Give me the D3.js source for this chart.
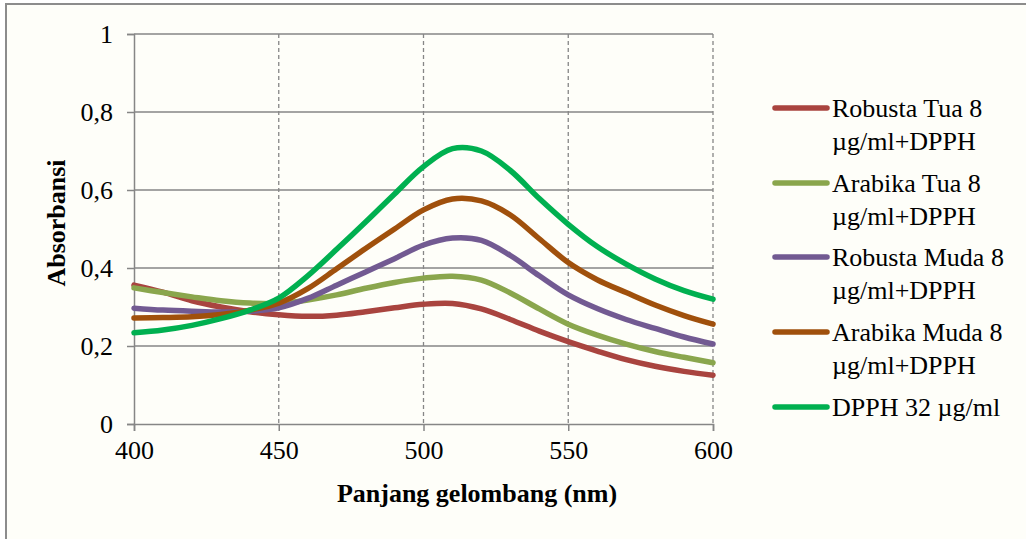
<!DOCTYPE html>
<html>
<head>
<meta charset="utf-8">
<script src="https://cdn.jsdelivr.net/npm/d3@7"></script>
<style>
  html, body { margin: 0; padding: 0; background: #ffffff; }
  svg { display: block; }
  text { font-family: "Liberation Serif", "Times New Roman", serif; fill: #000; }
</style>
</head>
<body>
<svg id="chart" width="1026" height="539"></svg>
<script>
// ---- Data ----
const wavelengths = [400,410,420,430,440,450,460,470,480,490,500,510,520,530,540,550,560,570,580,590,600];
const robustaTua  = [0.356,0.338,0.316,0.300,0.288,0.280,0.276,0.279,0.288,0.298,0.307,0.309,0.295,0.268,0.238,0.211,0.187,0.165,0.148,0.135,0.125];
const arabikaTua  = [0.349,0.337,0.326,0.316,0.310,0.309,0.318,0.331,0.348,0.363,0.374,0.379,0.369,0.336,0.295,0.256,0.228,0.205,0.186,0.171,0.157];
const robustaMuda = [0.297,0.292,0.289,0.287,0.289,0.298,0.322,0.356,0.390,0.424,0.459,0.477,0.471,0.432,0.380,0.331,0.296,0.268,0.245,0.223,0.205];
const arabikaMuda = [0.272,0.273,0.275,0.281,0.292,0.310,0.347,0.398,0.450,0.500,0.549,0.577,0.572,0.536,0.475,0.414,0.370,0.337,0.305,0.278,0.256];
const dpph32      = [0.234,0.241,0.253,0.270,0.292,0.323,0.380,0.448,0.518,0.590,0.660,0.706,0.700,0.650,0.578,0.512,0.455,0.410,0.372,0.342,0.320];
const seriesNames = [
  ["Robusta Tua 8", "\u00b5g/ml+DPPH"],
  ["Arabika Tua 8", "\u00b5g/ml+DPPH"],
  ["Robusta Muda 8", "\u00b5g/ml+DPPH"],
  ["Arabika Muda 8", "\u00b5g/ml+DPPH"],
  ["DPPH 32 \u00b5g/ml"]
];
const seriesColors = ["#A9443F", "#8AA64D", "#725A92", "#A0500C", "#00B050"];
const xTicks = [400,450,500,550,600];
const yTicks = [0,0.2,0.4,0.6,0.8,1];
const xTitle = "Panjang gelombang (nm)";
const yTitle = "Absorbansi";

const seriesValues = [robustaTua, arabikaTua, robustaMuda, arabikaMuda, dpph32];

// ---- Layout ----
const svg = d3.select("#chart");
const W = 1026, H = 539;
const plot = {left: 134, right: 713, top: 34, bottom: 424};

svg.append("rect").attr("x", 0).attr("y", 0).attr("width", W).attr("height", H).attr("fill", "#ffffff");
svg.append("rect").attr("x", 6).attr("y", 4).attr("width", 1040).attr("height", 560)
  .attr("fill", "#fefef9").attr("stroke", "#8c8c8c").attr("stroke-width", 2);

const x = d3.scaleLinear().domain([400, 600]).range([plot.left, plot.right]);
const y = d3.scaleLinear().domain([0, 1]).range([plot.bottom, plot.top]);

const fmt = d => (d === 0 || d === 1) ? String(d) : d.toFixed(1).replace(".", ",");

// horizontal gridlines (solid)
svg.append("g").selectAll("line").data(yTicks.filter(d => d > 0)).join("line")
  .attr("x1", plot.left).attr("x2", plot.right)
  .attr("y1", d => y(d)).attr("y2", d => y(d))
  .attr("stroke", "#868686").attr("stroke-width", 1.5);

// vertical gridlines (dashed)
svg.append("g").selectAll("line").data(xTicks.filter(d => d > 400)).join("line")
  .attr("x1", d => x(d)).attr("x2", d => x(d))
  .attr("y1", plot.top).attr("y2", plot.bottom)
  .attr("stroke", "#868686").attr("stroke-width", 1.3).attr("stroke-dasharray", "4,3");

// axes
const yAxis = d3.axisLeft(y).tickValues(yTicks).tickFormat(fmt).tickSize(7).tickPadding(14);
const gy = svg.append("g").attr("transform", `translate(${plot.left},0)`).call(yAxis);
const xAxis = d3.axisBottom(x).tickValues(xTicks).tickSize(7).tickPadding(10);
const gx = svg.append("g").attr("transform", `translate(0,${plot.bottom})`).call(xAxis);

[gx, gy].forEach(g => {
  g.select(".domain").attr("stroke", "#868686").attr("stroke-width", 1.5);
  g.selectAll(".tick line").attr("stroke", "#868686").attr("stroke-width", 1.5);
  g.selectAll(".tick text").attr("font-family", "Liberation Serif, serif").attr("font-size", 26).attr("fill", "#000");
});
gy.selectAll(".tick text").attr("dy", "0.34em");

// lines
const line = d3.line().x((d, i) => x(wavelengths[i])).y(d => y(d)).curve(d3.curveCatmullRom.alpha(0.5));
svg.append("g").selectAll("path").data(seriesValues).join("path")
  .attr("d", d => line(d))
  .attr("fill", "none")
  .attr("stroke", (d, i) => seriesColors[i])
  .attr("stroke-width", 5.5)
  .attr("stroke-linecap", "round")
  .attr("stroke-linejoin", "round");

// axis titles
svg.append("text").attr("x", 477).attr("y", 502)
  .attr("text-anchor", "middle").attr("font-size", 26).attr("font-weight", "bold").text(xTitle);
svg.append("text").attr("transform", `translate(65,223) rotate(-90)`)
  .attr("text-anchor", "middle").attr("font-size", 26).attr("font-weight", "bold").text(yTitle);

// legend
const legY = [108, 183, 257, 332, 407];
const leg = svg.append("g").selectAll("g").data(seriesNames).join("g")
  .attr("transform", (d, i) => `translate(0,${legY[i]})`);
leg.append("line").attr("x1", 775).attr("x2", 827).attr("y1", 0).attr("y2", 0)
  .attr("stroke", (d, i) => seriesColors[i]).attr("stroke-width", 5.5).attr("stroke-linecap", "round");
leg.each(function(d) {
  const t = d3.select(this).append("text").attr("x", 832).attr("y", 9).attr("font-size", 26);
  d.forEach((s, k) => t.append("tspan").attr("x", 832).attr("dy", k === 0 ? 0 : 33).text(s));
});
</script>
</body>
</html>
